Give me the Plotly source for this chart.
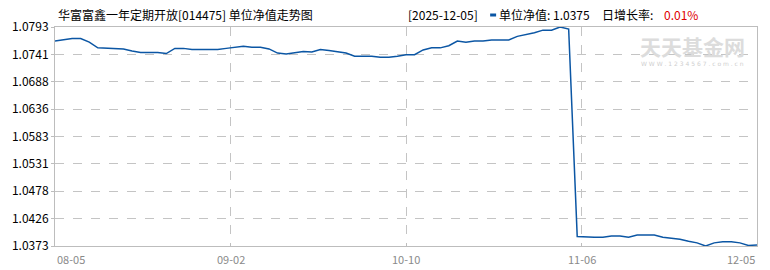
import plotly.graph_objects as go
import numpy as np

title_text = "华富富鑫一年定期开放[014475] 单位净值走势图"
latest_date = "2025-12-05"
latest_nav = "1.0375"
latest_rate = "0.01%"

dates = (
    ["2025-08-%s" % d for d in ["05","06","07","08","11","12","13","14","15","18","19","20","21","22","25","26","27","28","29"]]
    + ["2025-09-%s" % d for d in ["01","02","03","04","05","08","09","10","11","12","15","16","17","18","19","22","23","24","25","26","29","30"]]
    + ["2025-10-%s" % d for d in ["09","10","13","14","15","16","17","20","21","22","23","24","27","28","29","30","31"]]
    + ["2025-11-%s" % d for d in ["03","04","05","06","07","10","11","12","13","14","17","18","19","20","21","24","25","26","27","28"]]
    + ["2025-12-%s" % d for d in ["01","02","03","04","05"]]
)

nav = [
    1.0766, 1.0768, 1.0771, 1.0771, 1.0764, 1.0753, 1.0752, 1.0752, 1.0751, 1.0747,
    1.0744, 1.0744, 1.0744, 1.0742, 1.0752, 1.0752, 1.0750, 1.0750, 1.0750, 1.0750,
    1.0752, 1.0754, 1.0756, 1.0754, 1.0754, 1.0751, 1.0743, 1.0741, 1.0744, 1.0746,
    1.0745, 1.0750, 1.0748, 1.0745, 1.0743, 1.0737, 1.0737, 1.0737, 1.0735, 1.0735,
    1.0737, 1.0740, 1.0740, 1.0749, 1.0753, 1.0753, 1.0757, 1.0766, 1.0764, 1.0766,
    1.0766, 1.0768, 1.0768, 1.0768, 1.0775, 1.0778, 1.0782, 1.0787, 1.0787, 1.0793,
    1.0789, 1.0391, 1.0390, 1.0390, 1.0390, 1.0392, 1.0392, 1.0390, 1.0394, 1.0394,
    1.0394, 1.0390, 1.0388, 1.0386, 1.0382, 1.0379, 1.0373, 1.0379, 1.0381, 1.0381,
    1.0379, 1.0374, 1.0375,
]

x_tick_labels = ["08-05", "09-02", "10-10", "11-06", "12-05"]
y_tick_labels = ["1.0373", "1.0426", "1.0478", "1.0531", "1.0583", "1.0636", "1.0688", "1.0741", "1.0793"]

n = len(nav)
xs = list(range(n))
ymin, ymax = min(nav), max(nav)
yticks = list(np.linspace(ymin, ymax, len(y_tick_labels)))
xticks = list(np.linspace(0, n - 1, len(x_tick_labels)))

FONT = "Noto Sans CJK SC"
BORDER = "#bdbdbd"
GRID = "#c4c4c4"

fig = go.Figure()
fig.add_trace(go.Scatter(
    x=xs, y=nav, mode="lines", customdata=dates,
    line=dict(color="#0b56a4", width=1.5),
    hovertemplate="%{customdata}<br>%{y:.4f}<extra></extra>",
))

fig.update_layout(
    width=770, height=270,
    margin=dict(l=53, r=12, t=27, b=24),
    paper_bgcolor="white", plot_bgcolor="white",
    showlegend=False,
    font=dict(family=FONT, size=12, color="#000"),
    xaxis=dict(
        range=[0, n - 1], tickvals=xticks[1:-1], showticklabels=False,
        showgrid=True, gridcolor=GRID, griddash="dash", gridwidth=1,
        showline=True, linecolor=BORDER, linewidth=1, mirror=True,
        ticks="inside", ticklen=3, tickcolor=BORDER, zeroline=False,
    ),
    yaxis=dict(
        range=[ymin, ymax], tickvals=yticks, ticktext=y_tick_labels,
        showgrid=True, gridcolor=GRID, griddash="dash", gridwidth=1,
        showline=True, linecolor=BORDER, linewidth=1, mirror=True,
        ticks="outside", ticklen=3, tickcolor=BORDER, zeroline=False,
        tickfont=dict(family=FONT, size=12, color="#000"),
    ),
)

# x tick labels (first left-aligned, last right-aligned)
for i, (xv, lab) in enumerate(zip(xticks, x_tick_labels)):
    anchor = "left" if i == 0 else ("right" if i == len(xticks) - 1 else "center")
    fig.add_annotation(
        x=xv, y=0, xref="x", yref="paper", text=lab, showarrow=False,
        xanchor=anchor, yanchor="top", yshift=-3,
        font=dict(family=FONT, size=11, color="#8a8a8a"),
    )

# header texts
fig.add_annotation(
    x=0.002, y=1.059, xref="paper", yref="paper", text=title_text, showarrow=False,
    xanchor="left", yanchor="middle", font=dict(family=FONT, size=12, color="#000"),
)
fig.add_annotation(
    x=(406 - 53) / 705, y=1.059, xref="paper", yref="paper",
    text="[%s]" % latest_date, showarrow=False,
    xanchor="left", yanchor="middle", font=dict(family=FONT, size=12, color="#000"),
)
fig.add_shape(
    type="rect", xref="paper", yref="paper",
    x0=(490 - 53) / 705, x1=(496 - 53) / 705,
    y0=(246 - 16.5) / 219, y1=(246 - 13.5) / 219,
    fillcolor="#0b56a4", line=dict(width=0),
)
fig.add_annotation(
    x=(497 - 53) / 705, y=1.059, xref="paper", yref="paper",
    text="单位净值: %s" % latest_nav, showarrow=False,
    xanchor="left", yanchor="middle", font=dict(family=FONT, size=12, color="#000"),
)
fig.add_annotation(
    x=(600 - 53) / 705, y=1.059, xref="paper", yref="paper",
    text="日增长率: ", showarrow=False,
    xanchor="left", yanchor="middle", font=dict(family=FONT, size=12, color="#000"),
)
fig.add_annotation(
    x=(663 - 53) / 705, y=1.059, xref="paper", yref="paper",
    text=latest_rate, showarrow=False,
    xanchor="left", yanchor="middle", font=dict(family=FONT, size=12, color="#e00000"),
)

# watermark
fig.add_annotation(
    x=(693 - 53) / 705, y=(246 - 46) / 219, xref="paper", yref="paper",
    text="<b>天天基金网</b>", showarrow=False, xanchor="center", yanchor="middle",
    font=dict(family=FONT, size=21, color="#dcdcdc"),
)
fig.add_annotation(
    x=(693 - 53) / 705, y=(246 - 63) / 219, xref="paper", yref="paper",
    text="W W W . 1 2 3 4 5 6 7 . c o m . c n", showarrow=False, xanchor="center", yanchor="middle",
    font=dict(family="DejaVu Sans", size=6, color="#cfcfcf"),
)

fig.write_html("out.html")
